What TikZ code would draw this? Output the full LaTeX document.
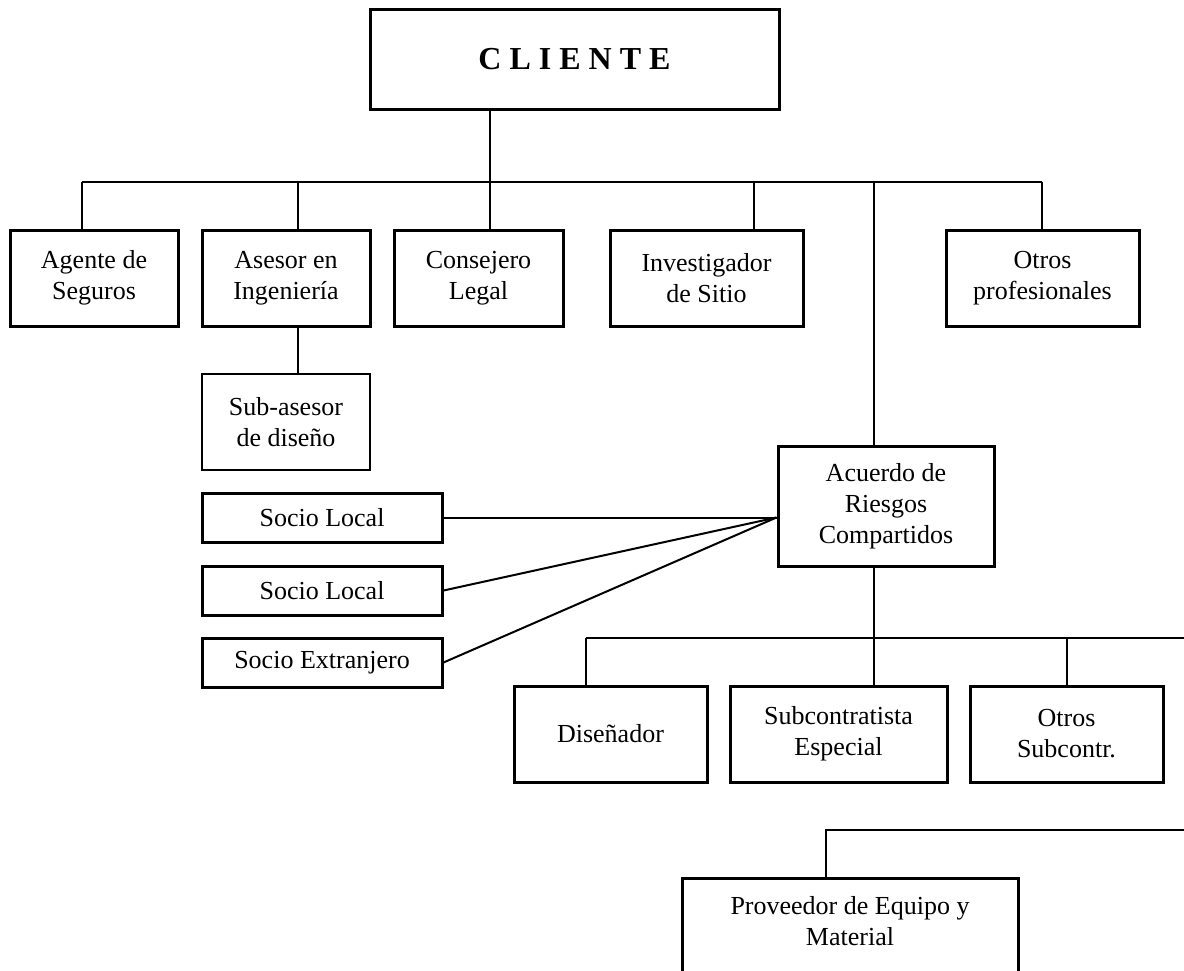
\documentclass[tikz,border=0pt]{standalone}
\usepackage{fontspec}
\setmainfont{Liberation Serif}
\usetikzlibrary{positioning}

\begin{document}
\begin{tikzpicture}[x=0.5pt, y=-0.5pt,
    caja/.style={draw, line width=1.5pt, align=center, inner sep=0pt,
      minimum height=48pt, font=\fontsize{13}{15.5}\selectfont},
    socio/.style={caja, minimum width=120pt, minimum height=24.5pt},
    linea/.style={line width=1.3pt},
    lineab/.style={line width=1pt}]
  \clip (0,0) rectangle (1184,970);
  % Cliente
  \node[caja, minimum width=204.5pt, minimum height=50pt,
    font=\fontsize{16}{19}\selectfont\bfseries] (cliente) at (574.5,59) {C L I E N T E};
  % Primera fila
  \node[caja, minimum width=84pt] (agente) at (94,278) {Agente de\\Seguros};
  \node[caja, minimum width=84pt] (asesor) at (286,278) {Asesor en\\Ingeniería};
  \node[caja, minimum width=84.5pt] (consejero) at (478.5,278) {Consejero\\Legal};
  \node[caja, minimum width=96.5pt] (investigador) at (706.5,278) {Investigador\\de Sitio};
  \node[caja, minimum width=96.5pt] (otrosprof) at (1042.5,278) {Otros\\profesionales};
  \node[caja, line width=1.1pt, minimum width=84pt] (subasesor) at (286,422) {Sub-asesor\\de diseño};
  % Acuerdo y socios
  \node[caja, minimum width=108pt, minimum height=60pt] (acuerdo) at (886,506) {Acuerdo de\\Riesgos\\Compartidos};
  \node[socio] (socio1) at (322,517.5) {Socio Local};
  \node[socio] (socio2) at (322,590.5) {Socio Local};
  \node[socio] (socio3) at (322,662.5) {Socio Extranjero};
  % Subcontratos
  \node[caja, minimum width=96.5pt] (disenador) at (610.5,734) {Diseñador};
  \node[caja, minimum width=108.5pt] (subcontratista) at (838.5,734) {Subcontratista\\Especial};
  \node[caja, minimum width=96.5pt] (otrossub) at (1066.5,734) {Otros\\Subcontr.};
  \node[caja, minimum width=168pt, minimum height=58pt] (proveedor) at (850,936) {Proveedor de Equipo y\\Material\\\mbox{}};

  % Puntos de las barras
  \coordinate (t1) at (82,182);
  \coordinate (t2) at (298,182);
  \coordinate (t3) at (490,182);
  \coordinate (t4) at (754,182);
  \coordinate (t5) at (874,182);
  \coordinate (t6) at (1042,182);
  \coordinate (b1) at (586,638);
  \coordinate (b2) at (1067,638);
  \coordinate (b3) at (1200,638);
  \coordinate (p1) at (826,830);
  \coordinate (p2) at (1200,830);
  \coordinate (union) at (acuerdo.west |- socio1.east);

  % Conectores
  \draw[linea] (cliente.south -| t3) -- (t3);
  \draw[linea] (t1) -- (t6);
  \draw[linea] (t1) -- (t1 |- agente.north);
  \draw[linea] (t2) -- (t2 |- asesor.north);
  \draw[linea] (t3) -- (t3 |- consejero.north);
  \draw[linea] (t4) -- (t4 |- investigador.north);
  \draw[linea] (t6) -- (t6 |- otrosprof.north);
  \draw[linea] (t5) -- (t5 |- acuerdo.north);
  \draw[lineab] (t2 |- asesor.south) -- (t2 |- subasesor.north);
  \draw[lineab] (socio1.east) -- (union);
  \draw[lineab] (socio2.east) -- (union);
  \draw[lineab] (socio3.east) -- (union);
  \draw[lineab] (t5 |- acuerdo.south) -- (t5 |- subcontratista.north);
  \draw[lineab] (b1) -- (b3);
  \draw[lineab] (b1) -- (b1 |- disenador.north);
  \draw[lineab] (b2) -- (b2 |- otrossub.north);
  \draw[lineab] (p2) -- (p1) -- (p1 |- proveedor.north);
\end{tikzpicture}
\end{document}
